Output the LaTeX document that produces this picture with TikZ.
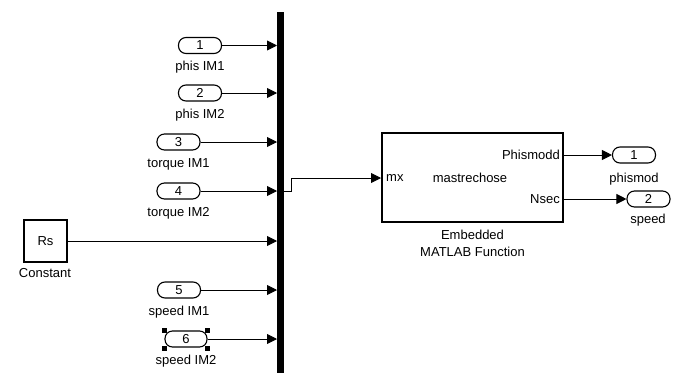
\documentclass[tikz,border=0pt]{standalone}
\usepackage{fontspec}
\setmainfont{Liberation Sans}
\usetikzlibrary{arrows.meta}
\begin{document}
\begin{tikzpicture}[x=1pt,y=-1pt,
  every node/.style={font=\fontsize{13}{15}\selectfont, inner sep=0pt},
  pill/.style={draw, line width=1.1pt, rounded corners=7.5pt, minimum width=43pt, minimum height=16pt},
  lbl/.style={},
  sig/.style={line width=0.9pt, -{Triangle[length=10pt,width=10pt]}},
  handle/.style={fill=black, minimum size=5pt},
  blk/.style={draw, line width=2pt},
]
\useasboundingbox (0,0) rectangle (679,372);
% bus bar
\node[fill=black, minimum width=7pt, minimum height=362pt, anchor=north west] (bar) at (277,12) {};
% inports
\node[pill] (in1) at (200,45.5) {1};
\node[lbl] (l1) at (200,67) {phis IM1};
\node[pill] (in2) at (200,93) {2};
\node[lbl] (l2) at (200,115) {phis IM2};
\node[pill] (in3) at (178.5,142) {3};
\node[lbl] (l3) at (178.5,164) {torque IM1};
\node[pill] (in4) at (178.5,191) {4};
\node[lbl] (l4) at (178.5,213) {torque IM2};
\node[draw, line width=1.2pt, minimum width=43pt, minimum height=42pt] (cst) at (45.5,241) {Rs};
\node[lbl] (lc) at (45,273) {Constant};
\node[pill] (in5) at (179,290) {5};
\node[lbl] (l5) at (179,312) {speed IM1};
\node[pill, minimum width=42pt] (in6) at (186,339) {6};
\node[lbl] (l6) at (186,361) {speed IM2};
\node[handle] (h1) at (164.5,330) {};
\node[handle] (h2) at (207.5,330) {};
\node[handle] (h3) at (164.5,348.5) {};
\node[handle] (h4) at (207.5,348.5) {};
% signals into bar
\draw[sig] (in1.east) -- (in1.east -| bar.west);
\draw[sig] (in2.east) -- (in2.east -| bar.west);
\draw[sig] (in3.east) -- (in3.east -| bar.west);
\draw[sig] (in4.east) -- (in4.east -| bar.west);
\draw[sig] (cst.east) -- (cst.east -| bar.west);
\draw[sig] (in5.east) -- (in5.east -| bar.west);
\draw[sig] (in6.east) -- (in6.east -| bar.west);
% embedded block
\node[blk, minimum width=181pt, minimum height=89pt] (emb) at (472.5,177.5) {};
\node[anchor=west] (mx) at (386,178) {mx};
\node (fn) at (470,178) {mastrechose};
\node[anchor=east] (po1) at (560,155) {Phismodd};
\node[anchor=east] (po2) at (560,199) {Nsec};
\node (el1) at (472.5,235) {Embedded};
\node (el2) at (472.5,252) {MATLAB Function};
\coordinate (b1) at (291,191);
\coordinate (b2) at (291,178);
\draw[sig] (bar.east |- b1) -- (b1) -- (b2) -- (emb.west |- b2);
% outports
\node[pill] (out1) at (634,155) {1};
\node[lbl] (lo1) at (634,179) {phismod};
\node[pill] (out2) at (648.5,199) {2};
\node[lbl] (lo2) at (648,220) {speed};
\draw[sig] (emb.east |- out1) -- (out1.west);
\draw[sig] (emb.east |- out2) -- (out2.west);
\end{tikzpicture}
\end{document}
